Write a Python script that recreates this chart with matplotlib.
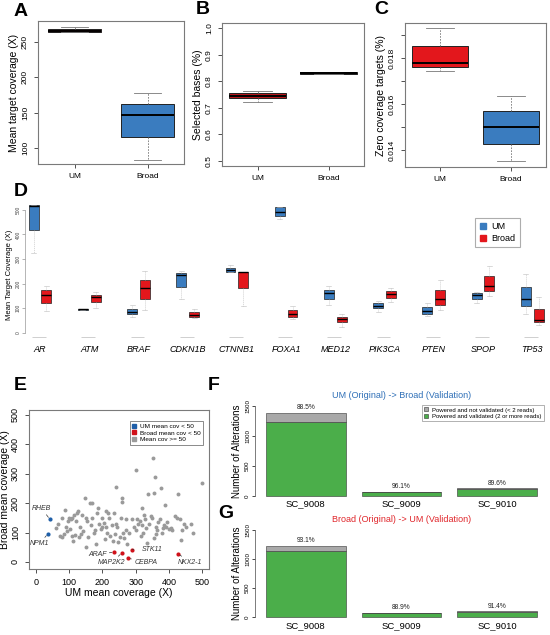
import matplotlib
matplotlib.use('Agg')
import matplotlib.pyplot as plt
import numpy as np
from matplotlib.lines import Line2D

plt.rcParams['font.family'] = ['Liberation Sans', 'DejaVu Sans']

# ---------------- data ----------------
groups = ['UM', 'Broad']
# Panel A: mean target coverage
A_q1 = [264, 115]; A_med = [266, 147]; A_q3 = [268, 162]; A_lo = [264, 83]; A_hi = [271, 178]
# Panel B: selected bases
B_q1 = [0.735, 0.829]; B_med = [0.745, 0.832]; B_q3 = [0.755, 0.835]; B_lo = [0.723, 0.829]; B_hi = [0.765, 0.835]
# Panel C: zero coverage targets
C_q1 = [0.01762, 0.01426]; C_med = [0.01780, 0.01499]; C_q3 = [0.01853, 0.01571]
C_lo = [0.01745, 0.01352]; C_hi = [0.01929, 0.01636]

# Panel D: per gene coverage
genes = ['AR', 'ATM', 'BRAF', 'CDKN1B', 'CTNNB1', 'FOXA1', 'MED12', 'PIK3CA', 'PTEN', 'SPOP', 'TP53']
um_q1 = [420, 94, 76, 186, 249, 477, 138, 99, 77, 139, 107]
um_med = [515, 96, 84, 236, 256, 491, 161, 110, 87, 152, 139]
um_q3 = [520, 97, 96, 243, 263, 513, 175, 121, 103, 161, 188]
um_lo = [325, 94, 66, 137, 249, 463, 114, 85, 69, 121, 77]
um_hi = [520, 97, 114, 252, 276, 513, 191, 131, 119, 167, 240]
br_q1 = [121, 127, 138, 64, 182, 64, 42, 141, 114, 169, 42]
br_med = [154, 145, 182, 72, 247, 76, 57, 157, 139, 191, 53]
br_q3 = [172, 154, 215, 83, 249, 91, 66, 171, 175, 229, 96]
br_lo = [87, 100, 93, 60, 110, 57, 23, 127, 91, 150, 33]
br_hi = [191, 164, 253, 96, 249, 110, 76, 183, 213, 272, 145]

# Panel E: scatter of mean coverage
gray_um = [60, 68, 72, 78, 80, 85, 88, 92, 95, 98, 100, 102, 105, 108, 110, 112, 115, 118, 122, 125,
           128, 130, 132, 135, 140, 142, 148, 150, 152, 155, 158, 162, 165, 168, 170, 175, 178, 182, 185, 188,
           190, 195, 198, 200, 205, 208, 210, 212, 215, 218, 220, 222, 228, 232, 235, 238, 240, 242, 245, 248,
           252, 255, 258, 260, 262, 265, 270, 272, 275, 280, 288, 295, 300, 302, 305, 308, 312, 315, 318, 320,
           322, 325, 328, 330, 335, 338, 340, 345, 348, 352, 355, 355, 358, 360, 362, 365, 368, 372, 375, 378,
           382, 385, 388, 392, 395, 400, 405, 410, 418, 425, 428, 432, 435, 440, 445, 450, 465, 472, 500]
gray_br = [115, 130, 88, 85, 148, 95, 178, 118, 105, 140, 150, 112, 145, 88, 150, 72, 160, 92, 140, 168,
           172, 85, 120, 95, 160, 105, 218, 150, 52, 138, 85, 200, 125, 200, 150, 98, 110, 60, 165, 185,
           130, 112, 120, 150, 132, 78, 172, 120, 100, 165, 150, 88, 125, 70, 165, 95, 254, 130, 118, 68,
           85, 150, 218, 205, 100, 80, 108, 145, 62, 100, 145, 120, 313, 110, 145, 130, 138, 88, 125, 185,
           98, 160, 145, 115, 65, 232, 130, 155, 150, 355, 80, 235, 290, 120, 95, 110, 135, 145, 252, 100,
           115, 125, 195, 118, 135, 112, 115, 110, 155, 150, 232, 145, 75, 110, 130, 118, 128, 100, 268]
blue_names = ['RHEB', 'NPM1']
blue_um = [42, 36]
blue_br = [146, 95]
red_names = ['ARAF', 'MAP2K2', 'CEBPA', 'STK11', 'NKX2-1']
red_um = [235, 258, 278, 290, 428]
red_br = [34, 30, 13, 42, 28]

# Panels F, G: validation bars
samples = ['SC_9008', 'SC_9009', 'SC_9010']
F_total = [1384, 72, 128]
F_valid = [1224, 69, 115]
F_pct = ['88.5%', '96.1%', '89.6%']
G_total = [1225, 78, 111]
G_valid = [1140, 69, 101]
G_pct = ['93.1%', '88.9%', '91.4%']

# ---------------- styling ----------------
W, H = 550, 635
fig = plt.figure(figsize=(5.5, 6.35), dpi=100)

def ax_px(x0, y0, x1, y1):
    return fig.add_axes([x0 / W, 1 - y1 / H, (x1 - x0) / W, (y1 - y0) / H])

BLUE = '#3a7cbf'
RED = '#e3171c'
DRED = '#b5161b'
SPINE = '#7a7a7a'
GREEN = '#4bae4a'
GRAYB = '#a9a9a9'

def stats_list(q1, med, q3, lo, hi):
    return [dict(q1=a, med=b, q3=c, whislo=d, whishi=e, fliers=[]) for a, b, c, d, e in zip(q1, med, q3, lo, hi)]

def draw_boxes(ax, stats, pos, colors, width, lw=0.7, mlw=1.4, wlw=0.6, gray='#777777'):
    b = ax.bxp(stats, positions=pos, widths=width, capwidths=[width * 0.5] * len(pos),
               patch_artist=True, showfliers=False,
               boxprops=dict(edgecolor='#222222', linewidth=lw),
               medianprops=dict(color='black', linewidth=mlw),
               whiskerprops=dict(color=gray, linestyle=(0, (2, 1.5)), linewidth=wlw),
               capprops=dict(color=gray, linewidth=wlw))
    for p, c in zip(b['boxes'], colors):
        p.set_facecolor(c)
    return b

def style_r(ax):
    for s in ax.spines.values():
        s.set_color(SPINE)
        s.set_linewidth(0.8)
    ax.tick_params(axis='both', colors='#333333', labelsize=6, length=3, width=0.6, labelcolor='black')
    for lab in ax.get_yticklabels():
        lab.set_rotation(90)
        lab.set_va('center')

def letter(x, y, t):
    fig.text(x / W, 1 - y / H, t, fontsize=14, fontweight='bold', ha='left', va='center')

# ---- Panel A ----
axA = ax_px(38, 21, 184, 164)
draw_boxes(axA, stats_list(A_q1, A_med, A_q3, A_lo, A_hi), [1, 2], [DRED, BLUE], 0.72)
axA.set_xlim(0.5, 2.5)
axA.set_ylim(77, 280)
axA.set_yticks([100, 150, 200, 250])
axA.set_xticks([1, 2])
axA.set_xticklabels(groups)
axA.set_ylabel('Mean target coverage (X)', fontsize=7.5, labelpad=2)
style_r(axA)
letter(14, 12, 'A')

# ---- Panel B ----
axB = ax_px(222, 23, 364, 166)
draw_boxes(axB, stats_list(B_q1, B_med, B_q3, B_lo, B_hi), [1, 2], [DRED, 'black'], 0.8)
axB.set_xlim(0.5, 2.5)
axB.set_ylim(0.48, 1.02)
axB.set_yticks([0.5, 0.6, 0.7, 0.8, 0.9, 1.0])
axB.set_yticklabels(['0.5', '0.6', '0.7', '0.8', '0.9', '1.0'])
axB.set_xticks([1, 2])
axB.set_xticklabels(groups)
axB.set_ylabel('Selected bases (%)', fontsize=7.5, labelpad=2)
style_r(axB)
letter(196, 9, 'B')

# ---- Panel C ----
axC = ax_px(405, 23, 546, 167)
draw_boxes(axC, stats_list(C_q1, C_med, C_q3, C_lo, C_hi), [1, 2], [RED, BLUE], 0.8)
axC.set_xlim(0.5, 2.5)
axC.set_ylim(0.01326, 0.01952)
axC.set_yticks([0.014, 0.016, 0.018])
axC.set_yticklabels(['0.014', '0.016', '0.018'])
axC.set_yticks([0.015, 0.017, 0.019], minor=True)
axC.tick_params(axis='y', which='minor', length=3, width=0.6, colors='#333333')
axC.set_xticks([1, 2])
axC.set_xticklabels(groups)
axC.set_ylabel('Zero coverage targets (%)', fontsize=7.5, labelpad=2)
style_r(axC)
letter(374, 9, 'C')

# ---- Panel D ----
axD = ax_px(25, 205, 545, 345)
gpos = np.arange(len(genes))
off = 0.13
draw_boxes(axD, stats_list(um_q1, um_med, um_q3, um_lo, um_hi), gpos - off, [BLUE] * len(genes), 0.2,
           lw=0.5, mlw=1.0, wlw=0.4, gray='#bbbbbb')
draw_boxes(axD, stats_list(br_q1, br_med, br_q3, br_lo, br_hi), gpos + off, [RED] * len(genes), 0.2,
           lw=0.5, mlw=1.0, wlw=0.4, gray='#bbbbbb')
axD.hlines([-19] * len(genes), gpos - 0.16, gpos + 0.12, color='#c8c8c8', linewidth=0.6)
axD.set_xlim(-0.305, 10.26)
axD.set_ylim(-50, 520)
for s in ['top', 'right', 'bottom']:
    axD.spines[s].set_visible(False)
axD.spines['left'].set_color('#999999')
axD.spines['left'].set_linewidth(0.5)
axD.spines['left'].set_bounds(0, 500)
axD.set_yticks([0, 100, 200, 300, 400, 500])
axD.tick_params(axis='y', labelsize=3.5, length=2, width=0.4, colors='#777777', labelcolor='#444444', pad=1)
for lab in axD.get_yticklabels():
    lab.set_rotation(90)
    lab.set_va('center')
axD.set_xticks(gpos)
axD.set_xticklabels(genes, fontstyle='italic', fontsize=6.5)
axD.tick_params(axis='x', length=0, pad=0)
axD.set_ylabel('Mean Target Coverage (X)', fontsize=5.5, labelpad=2)
hD = [Line2D([0], [0], marker='s', color='w', markerfacecolor=BLUE, markeredgecolor=BLUE, markersize=5),
      Line2D([0], [0], marker='s', color='w', markerfacecolor=RED, markeredgecolor=RED, markersize=5)]
legD = axD.legend(hD, groups, loc='upper left', bbox_to_anchor=(445 / 520, 1 - 8 / 140), fontsize=6.5,
                  frameon=True, fancybox=False, handlelength=0.8, handletextpad=0.6, borderpad=0.5,
                  labelspacing=0.3)
legD.get_frame().set_edgecolor('#999999')
legD.get_frame().set_linewidth(0.8)
letter(14, 192, 'D')

# ---- Panel E ----
axE = ax_px(29, 410, 209, 569)
axE.scatter(gray_um, gray_br, s=8, color='#9a9a9a', linewidths=0, zorder=2)
axE.scatter(blue_um, blue_br, s=9, color='#1f5fa8', linewidths=0, zorder=3)
axE.scatter(red_um, red_br, s=9, color='#d0111a', linewidths=0, zorder=3)
lab_pos = {'RHEB': (18, 182), 'NPM1': (12, 62), 'ARAF': (185, 24), 'MAP2K2': (228, -2),
           'CEBPA': (330, -3), 'STK11': (350, 42), 'NKX2-1': (462, -2)}
all_names = blue_names + red_names
all_x = blue_um + red_um
all_y = blue_br + red_br
for n, px, py in zip(all_names, all_x, all_y):
    tx, ty = lab_pos[n]
    axE.annotate(n, xy=(px, py), xytext=(tx, ty), fontsize=5, fontstyle='italic', color='#333333',
                 ha='center', va='center',
                 arrowprops=dict(arrowstyle='-', color='#333333', linewidth=0.5, shrinkA=4, shrinkB=1.5))
axE.set_xlim(-20, 520)
axE.set_ylim(-24, 517)
axE.set_xticks([0, 100, 200, 300, 400, 500])
axE.set_yticks([0, 100, 200, 300, 400, 500])
axE.set_xlabel('UM mean coverage (X)', fontsize=7.5, labelpad=1)
axE.set_ylabel('Broad mean coverage (X)', fontsize=7.5, labelpad=1)
style_r(axE)
axE.tick_params(labelsize=6.5)
hE = [Line2D([0], [0], marker='s', color='w', markerfacecolor='#1f5fa8', markeredgecolor='#1f5fa8', markersize=3.5),
      Line2D([0], [0], marker='s', color='w', markerfacecolor='#d0111a', markeredgecolor='#d0111a', markersize=3.5),
      Line2D([0], [0], marker='s', color='w', markerfacecolor='#9a9a9a', markeredgecolor='#9a9a9a', markersize=3.5)]
legE = axE.legend(hE, ['UM mean cov < 50', 'Broad mean cov < 50', 'Mean cov >= 50'], loc='upper right',
                  bbox_to_anchor=(0.985, 0.95), fontsize=4.6, frameon=True, fancybox=False,
                  handlelength=0.6, handletextpad=0.6, borderpad=0.4, labelspacing=0.15)
legE.get_frame().set_edgecolor('#555555')
legE.get_frame().set_linewidth(0.6)
letter(14, 385, 'E')

# ---- Panels F, G ----
def bar_panel(y0, y1, total, valid, pct, title, tcolor, legend):
    ax = ax_px(255, y0, 548, y1)
    xb = np.array([0.7, 1.9, 3.1])
    notval = [t - v for t, v in zip(total, valid)]
    ax.bar(xb, valid, width=1.0, color=GREEN, edgecolor='#333333', linewidth=0.4)
    ax.bar(xb, notval, width=1.0, bottom=valid, color=GRAYB, edgecolor='#333333', linewidth=0.4)
    for x, t, p in zip(xb, total, pct):
        ax.text(x, t + 25, p, ha='center', va='bottom', fontsize=4.8, color='#222222')
    ax.set_xlim(0.064, 3.736)
    ax.set_ylim(-60, 1560)
    for s in ['top', 'right', 'bottom']:
        ax.spines[s].set_visible(False)
    ax.spines['left'].set_color('#666666')
    ax.spines['left'].set_linewidth(0.6)
    ax.spines['left'].set_bounds(0, 1500)
    ax.set_yticks([0, 500, 1000, 1500])
    ax.tick_params(axis='y', labelsize=4.5, length=2.5, width=0.5, pad=1)
    for lab in ax.get_yticklabels():
        lab.set_rotation(90)
        lab.set_va('center')
    ax.set_xticks(xb)
    ax.set_xticklabels(samples, fontsize=6.8)
    ax.tick_params(axis='x', length=0, pad=0)
    ax.set_ylabel('Number of Alterations', fontsize=7, labelpad=2)
    ax.set_title(title, fontsize=6.5, color=tcolor, pad=3)
    if legend:
        h = [Line2D([0], [0], marker='s', color='w', markerfacecolor=GRAYB, markeredgecolor='#333333', markersize=3.5, markeredgewidth=0.4),
             Line2D([0], [0], marker='s', color='w', markerfacecolor=GREEN, markeredgecolor='#333333', markersize=3.5, markeredgewidth=0.4)]
        lg = ax.legend(h, ['Powered and not validated (< 2 reads)', 'Powered and validated (2 or more reads)'],
                       loc='upper right', bbox_to_anchor=(0.995, 1.0), fontsize=4.3, frameon=True,
                       fancybox=False, handlelength=0.6, handletextpad=0.6, borderpad=0.4, labelspacing=0.2)
        lg.get_frame().set_edgecolor('#777777')
        lg.get_frame().set_linewidth(0.5)
    return ax

bar_panel(402, 499.6, F_total, F_valid, F_pct, 'UM (Original) -> Broad (Validation)', '#2e6fb7', True)
letter(208, 385, 'F')
bar_panel(526, 621, G_total, G_valid, G_pct, 'Broad (Original) -> UM (Validation)', '#e0262b', False)
letter(218, 514, 'G')

fig.savefig('out.png', dpi=100)
